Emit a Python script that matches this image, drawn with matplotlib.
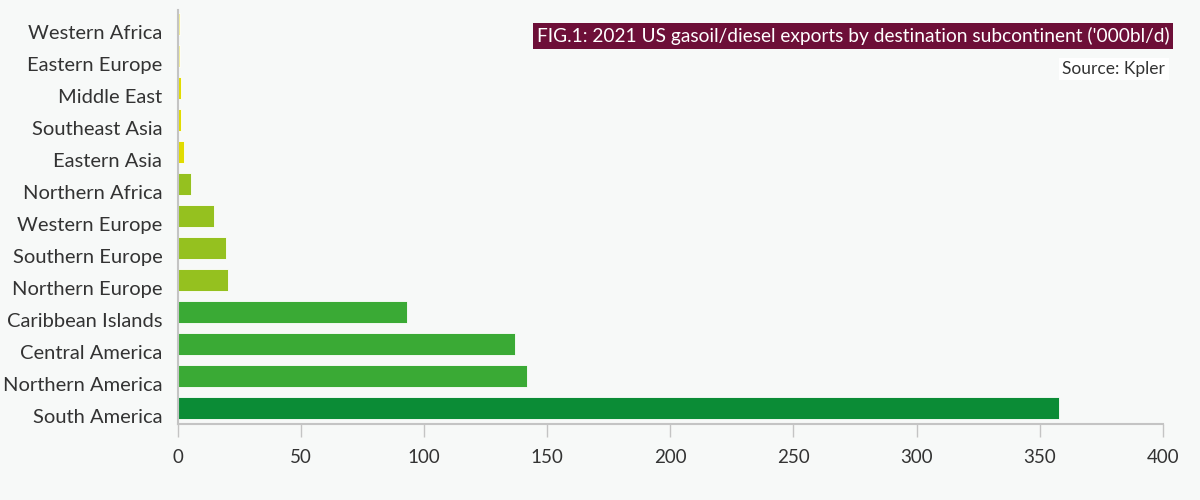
import matplotlib.pyplot as plt
from matplotlib.transforms import ScaledTranslation

regions = ["South America", "Northern America", "Central America", "Caribbean Islands",
           "Northern Europe", "Southern Europe", "Western Europe", "Northern Africa",
           "Eastern Asia", "Southeast Asia", "Middle East", "Eastern Europe", "Western Africa"]
exports = [358, 141.7, 137, 93, 20.3, 19.5, 14.6, 5.3, 2.4, 1.4, 1.4, 0.9, 0.9]
bar_colors = ["#0b8c36", "#3aaa35", "#3aaa35", "#3aaa35",
              "#95c11f", "#95c11f", "#95c11f", "#95c11f",
              "#e1dc00", "#e1dc00", "#e1dc00", "#f3ee9a", "#f3ee9a"]

plt.rcParams['font.family'] = ['Lato', 'DejaVu Sans']
bg = "#f7f9f8"

fig = plt.figure(figsize=(12, 5), dpi=100, facecolor=bg)
ax = fig.add_axes([0.148, 0.152, 0.821, 0.828], facecolor=bg)

y = list(range(len(regions)))
ax.barh(y, exports, height=0.69, color=bar_colors, edgecolor="white", linewidth=0.6)

ax.set_xlim(0, 400)
ax.set_ylim(-0.5, 12.44)
ax.set_xticks(range(0, 401, 50))
ax.set_yticks(y)
ax.set_yticklabels(regions)

for s in ["top", "right"]:
    ax.spines[s].set_visible(False)
for s in ["left", "bottom"]:
    ax.spines[s].set_color("#c4c4c4")
    ax.spines[s].set_linewidth(1.5)

ax.tick_params(axis="x", length=9, color="#c4c4c4", width=1, pad=9,
               labelsize=13.5, labelcolor="#333333")
ax.tick_params(axis="y", length=0, pad=11, labelsize=14.5, labelcolor="#333333")

# labels sit a little below the bar centres in the original
shift = ScaledTranslation(0, -8 / 100, fig.dpi_scale_trans)
for lab in ax.get_yticklabels():
    lab.set_transform(lab.get_transform() + shift)

fig.text(0.9745, 0.928, "FIG.1: 2021 US gasoil/diesel exports by destination subcontinent ('000bl/d)",
         ha="right", va="center", fontsize=13.8, color="white",
         bbox=dict(boxstyle="square,pad=0.2", facecolor="#6d0f38", edgecolor="none"))
fig.text(0.971, 0.862, "Source: Kpler", ha="right", va="center", fontsize=12.5,
         color="#333333",
         bbox=dict(boxstyle="square,pad=0.2", facecolor="white", edgecolor="none"))

fig.savefig("out.png", dpi=100, facecolor=bg)
